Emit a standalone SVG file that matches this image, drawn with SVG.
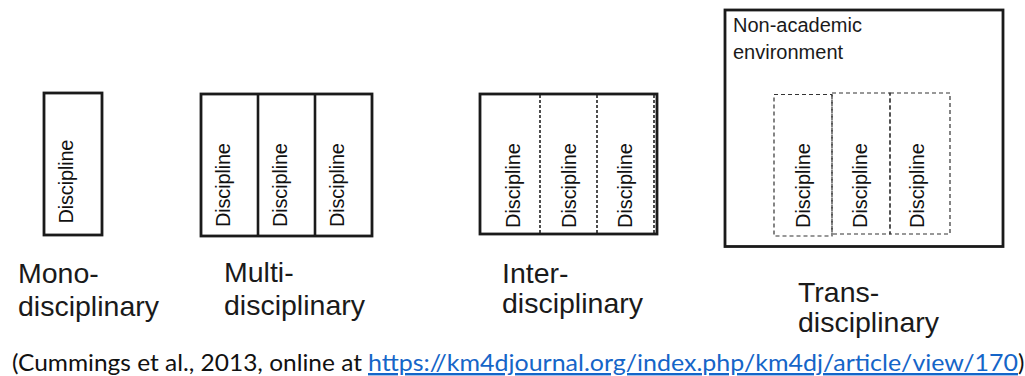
<svg xmlns="http://www.w3.org/2000/svg" width="1025" height="376" viewBox="0 0 1025 376">
<style>
.box{fill:#fff;stroke:#1a1a1a;stroke-width:2.8}
.solid{stroke:#1a1a1a;stroke-width:2.6;fill:none}
.dash{stroke:#222;stroke-width:1.6;stroke-dasharray:3 2;fill:none}
.tdash{stroke:#333;stroke-width:1.2;stroke-dasharray:4 3;fill:none}
.disc{font-family:"Liberation Sans",Arial,sans-serif;font-size:20px;fill:#111;text-anchor:middle}
.lbl{font-family:"Liberation Sans",Arial,sans-serif;font-size:28.5px;fill:#1a1a1a}
.env{font-family:"Liberation Sans",Arial,sans-serif;font-size:20px;fill:#1a1a1a}
.cite{font-family:"Lato","Liberation Sans",sans-serif;font-size:24px;fill:#111}
.link{font-family:"Lato","Liberation Sans",sans-serif;font-size:24px;fill:#1565c8;text-decoration:underline}
</style>
<rect width="1025" height="376" fill="#fff"/>
<g id="mono">
<rect class="box" x="44" y="93" width="58" height="142"/>
<text class="disc" transform="translate(73,181.5) rotate(-90)" textLength="84">Discipline</text>
<text class="lbl" x="18" y="283">Mono-</text>
<text class="lbl" x="18" y="316">disciplinary</text>
</g>
<g id="multi">
<rect class="box" x="201" y="94" width="171" height="142"/>
<line class="solid" x1="258" y1="94" x2="258" y2="236"/>
<line class="solid" x1="315" y1="94" x2="315" y2="236"/>
<text class="disc" transform="translate(229.5,185) rotate(-90)" textLength="84">Discipline</text>
<text class="disc" transform="translate(286.8,185) rotate(-90)" textLength="84">Discipline</text>
<text class="disc" transform="translate(343.5,185) rotate(-90)" textLength="84">Discipline</text>
<text class="lbl" x="224" y="282">Multi-</text>
<text class="lbl" x="224" y="315">disciplinary</text>
</g>
<g id="inter">
<rect class="box" x="480" y="94" width="177" height="140"/>
<line class="dash" x1="540" y1="95" x2="540" y2="233"/>
<line class="dash" x1="597" y1="95" x2="597" y2="233"/>
<line class="dash" x1="654" y1="95" x2="654" y2="233"/>
<text class="disc" transform="translate(519.5,185.5) rotate(-90)" textLength="85">Discipline</text>
<text class="disc" transform="translate(575.5,185.5) rotate(-90)" textLength="85">Discipline</text>
<text class="disc" transform="translate(632,185.5) rotate(-90)" textLength="85">Discipline</text>
<text class="lbl" x="502" y="283">Inter-</text>
<text class="lbl" x="502" y="313">disciplinary</text>
</g>
<g id="trans">
<rect class="box" x="725" y="10" width="278" height="236.5"/>
<text class="env" x="733" y="31.5">Non-academic</text>
<text class="env" x="733" y="58.5">environment</text>
<rect class="tdash" x="774" y="94.5" width="58" height="141.5"/>
<rect class="tdash" x="832" y="93" width="58" height="141"/>
<rect class="tdash" x="890" y="93" width="60" height="141"/>
<text class="disc" transform="translate(809.5,185.5) rotate(-90)" textLength="85">Discipline</text>
<text class="disc" transform="translate(866.5,185.5) rotate(-90)" textLength="85">Discipline</text>
<text class="disc" transform="translate(923.5,185.5) rotate(-90)" textLength="85">Discipline</text>
<text class="lbl" x="798" y="301.5">Trans-</text>
<text class="lbl" x="798" y="331.5">disciplinary</text>
</g>
<g id="citation">
<text class="cite" x="12" y="371" textLength="350" lengthAdjust="spacingAndGlyphs">(Cummings et al., 2013, online at</text>
<text class="link" x="368" y="371" textLength="650" lengthAdjust="spacingAndGlyphs">https://km4djournal.org/index.php/km4dj/article/view/170</text>
<text class="cite" x="1018" y="371">)</text>
</g>
<g id="connectors"/>
</svg>
